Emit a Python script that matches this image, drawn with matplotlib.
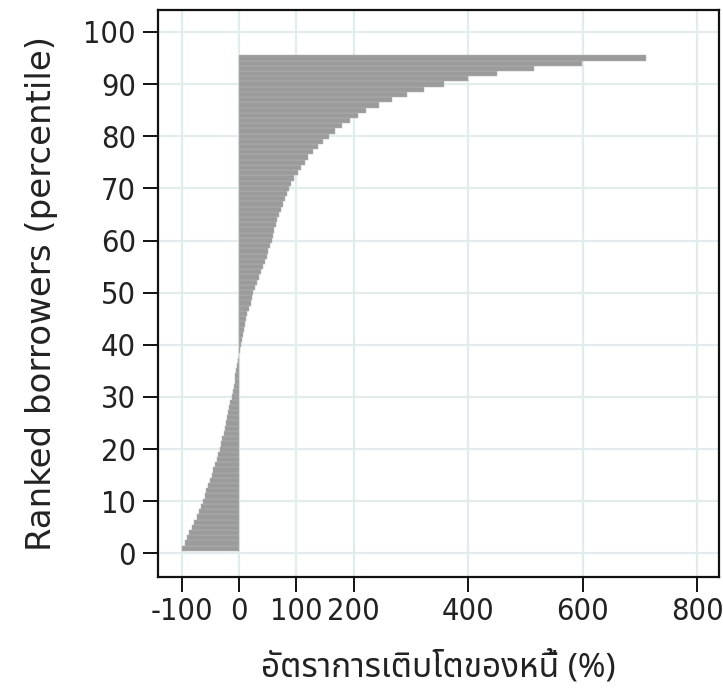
import matplotlib
matplotlib.use("Agg")
import matplotlib.pyplot as plt
from matplotlib import font_manager
from matplotlib.ft2font import FT2Font

# percentile rank of borrowers (1..95) and debt growth rate (%)
percentile = list(range(1, 96))
growth = [
    -100, -95, -91, -87, -82, -78, -74, -70, -66, -63,
    -60, -57, -54, -51, -48, -45, -42, -39, -36.5, -34,
    -31.5, -29, -27, -25, -23, -21, -19, -17, -15, -13,
    -11, -9.5, -8, -6.5, -5, -3.5, -2, -0.5, 1, 2.5,
    4.5, 6.5, 8.5, 10.5, 12.5, 14.5, 17, 20, 22, 25,
    28, 31, 34, 38, 42, 45, 48, 51, 54, 57,
    59, 61, 64, 67, 70, 73, 77, 81, 84, 87,
    91, 96, 102, 108, 115, 121, 129, 137, 147, 157,
    167, 179, 193, 208, 222, 245, 267, 294, 323, 358,
    400, 450, 515, 598, 710,
]
xticks = [-100, 0, 100, 200, 400, 600, 800]
yticks = list(range(0, 101, 10))

plt.rcParams["axes.unicode_minus"] = False


def thai_font():
    # find any installed font that has Thai glyphs
    names = []
    for f in font_manager.fontManager.ttflist:
        try:
            if 0x0E2D in FT2Font(f.fname).get_charmap():
                names.append(f.name)
        except Exception:
            pass
    for pref in ["Noto Sans Thai", "Noto Sans Thai Looped", "Loma", "Garuda"]:
        if pref in names:
            return pref
    return names[0] if names else None


# narrow font for the tick numbers if there is one
narrow = None
for f in font_manager.fontManager.ttflist:
    if f.name in ("Liberation Sans Narrow", "DejaVu Sans") and f.stretch == "condensed" \
            and f.weight in (400, "normal") and f.style == "normal":
        narrow = f.fname
        break
if narrow:
    tick_prop = font_manager.FontProperties(fname=narrow, size=22)
else:
    tick_prop = font_manager.FontProperties(family="DejaVu Sans", size=18)

th = thai_font()
xlabel_family = [th, "DejaVu Sans"] if th else ["DejaVu Sans"]

fig = plt.figure(figsize=(7.23, 6.94), dpi=100)
ax = fig.add_axes([0.219, 0.168, 0.7755, 0.8176])

ax.set_axisbelow(True)
ax.grid(True, color="#e2ecec", linewidth=1.6)
ax.barh(percentile, growth, height=1.0, color="#9b9b9b", edgecolor="#b4b4b4", linewidth=0.35)

ax.set_xlim(-141, 838)
ax.set_ylim(-4.6, 104.2)
ax.set_xticks(xticks)
ax.set_yticks(yticks)

for s in ax.spines.values():
    s.set_linewidth(1.6)
    s.set_color("#111111")
ax.tick_params(axis="both", direction="out", length=11, width=1.4, color="#111111",
               labelcolor="#222222")
ax.tick_params(axis="x", pad=3)
ax.tick_params(axis="y", pad=5)
for lab in ax.get_xticklabels() + ax.get_yticklabels():
    lab.set_fontproperties(tick_prop)

ax.set_ylabel("Ranked borrowers (percentile)", fontsize=24.5, color="#222222", labelpad=18)
ax.set_xlabel("อัตราการเติบโตของหนี้ (%)", fontsize=24, color="#222222", labelpad=18,
              family=xlabel_family)

fig.savefig("out.png", dpi=100)
